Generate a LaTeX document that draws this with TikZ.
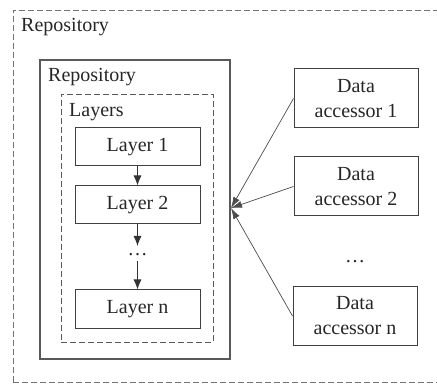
\documentclass[tikz,border=0pt]{standalone}
\usepackage{fontspec}
\setmainfont{Liberation Serif}
\usetikzlibrary{arrows.meta}
\begin{document}
\begin{tikzpicture}[x=1pt,y=-1pt,
  every node/.style={font=\rmfamily\fontsize{20}{25}\selectfont, text=black!85},
  box/.style={draw=black!75, line width=1pt, rectangle, inner sep=0pt, align=center},
  dbox/.style={draw=black!65, line width=0.9pt, dash pattern=on 6pt off 3pt, rectangle, inner sep=0pt},
  lbl/.style={anchor=west, inner sep=0pt},
  arr/.style={draw=black!80, line width=0.8pt, -{Latex[length=10pt,width=8pt]}},
  conn/.style={draw=black!70, line width=0.7pt, -{Latex[length=11pt,width=7pt]}}
]
\useasboundingbox (0,0) rectangle (437,385);
\begin{scope}
\clip (0,0) rectangle (437,385);
\node[dbox, draw=black!55, minimum width=432pt, minimum height=372pt] (outer) at (229,196) {};
\end{scope}
\node[lbl] (outerlbl) at (21,27) {Repository};
\node[box, line width=1.3pt, draw=black!65, minimum width=190pt, minimum height=299pt] (repo) at (135,209.5) {};
\node[lbl] (repolbl) at (48,77) {Repository};
\node[dbox, minimum width=152pt, minimum height=248pt] (layers) at (137,218) {};
\node[lbl] (layerslbl) at (69,112) {Layers};
\node[box, minimum width=125pt, minimum height=38pt] (l1) at (137.5,147) {Layer 1};
\node[box, minimum width=125pt, minimum height=38pt] (l2) at (137.5,205) {Layer 2};
\node[inner sep=0pt, anchor=base] (ldots) at (137.5,256) {\dots};
\node[box, minimum width=125pt, minimum height=38pt] (ln) at (137.5,309) {Layer n};
\coordinate (ldin) at (137.5,246);
\coordinate (ldout) at (137.5,261);
\draw[arr] (l1) -- (l2);
\draw[arr] (l2.south) -- (ldin);
\draw[arr] (ldout) -- (ln.north);
\node[box, minimum width=124pt, minimum height=59pt] (da1) at (356,98.5) {Data\\accessor 1};
\node[box, minimum width=124pt, minimum height=59pt] (da2) at (356,186.5) {Data\\accessor 2};
\node[inner sep=0pt, anchor=base] (ddots) at (355,263) {\dots};
\node[box, minimum width=124pt, minimum height=58pt] (dan) at (355,316) {Data\\accessor n};
\coordinate (hub) at (231,208);
\draw[conn] (da1.west) -- (hub);
\draw[conn] (da2.west) -- (hub);
\draw[conn] (dan.west) -- (hub);
\end{tikzpicture}
\end{document}
